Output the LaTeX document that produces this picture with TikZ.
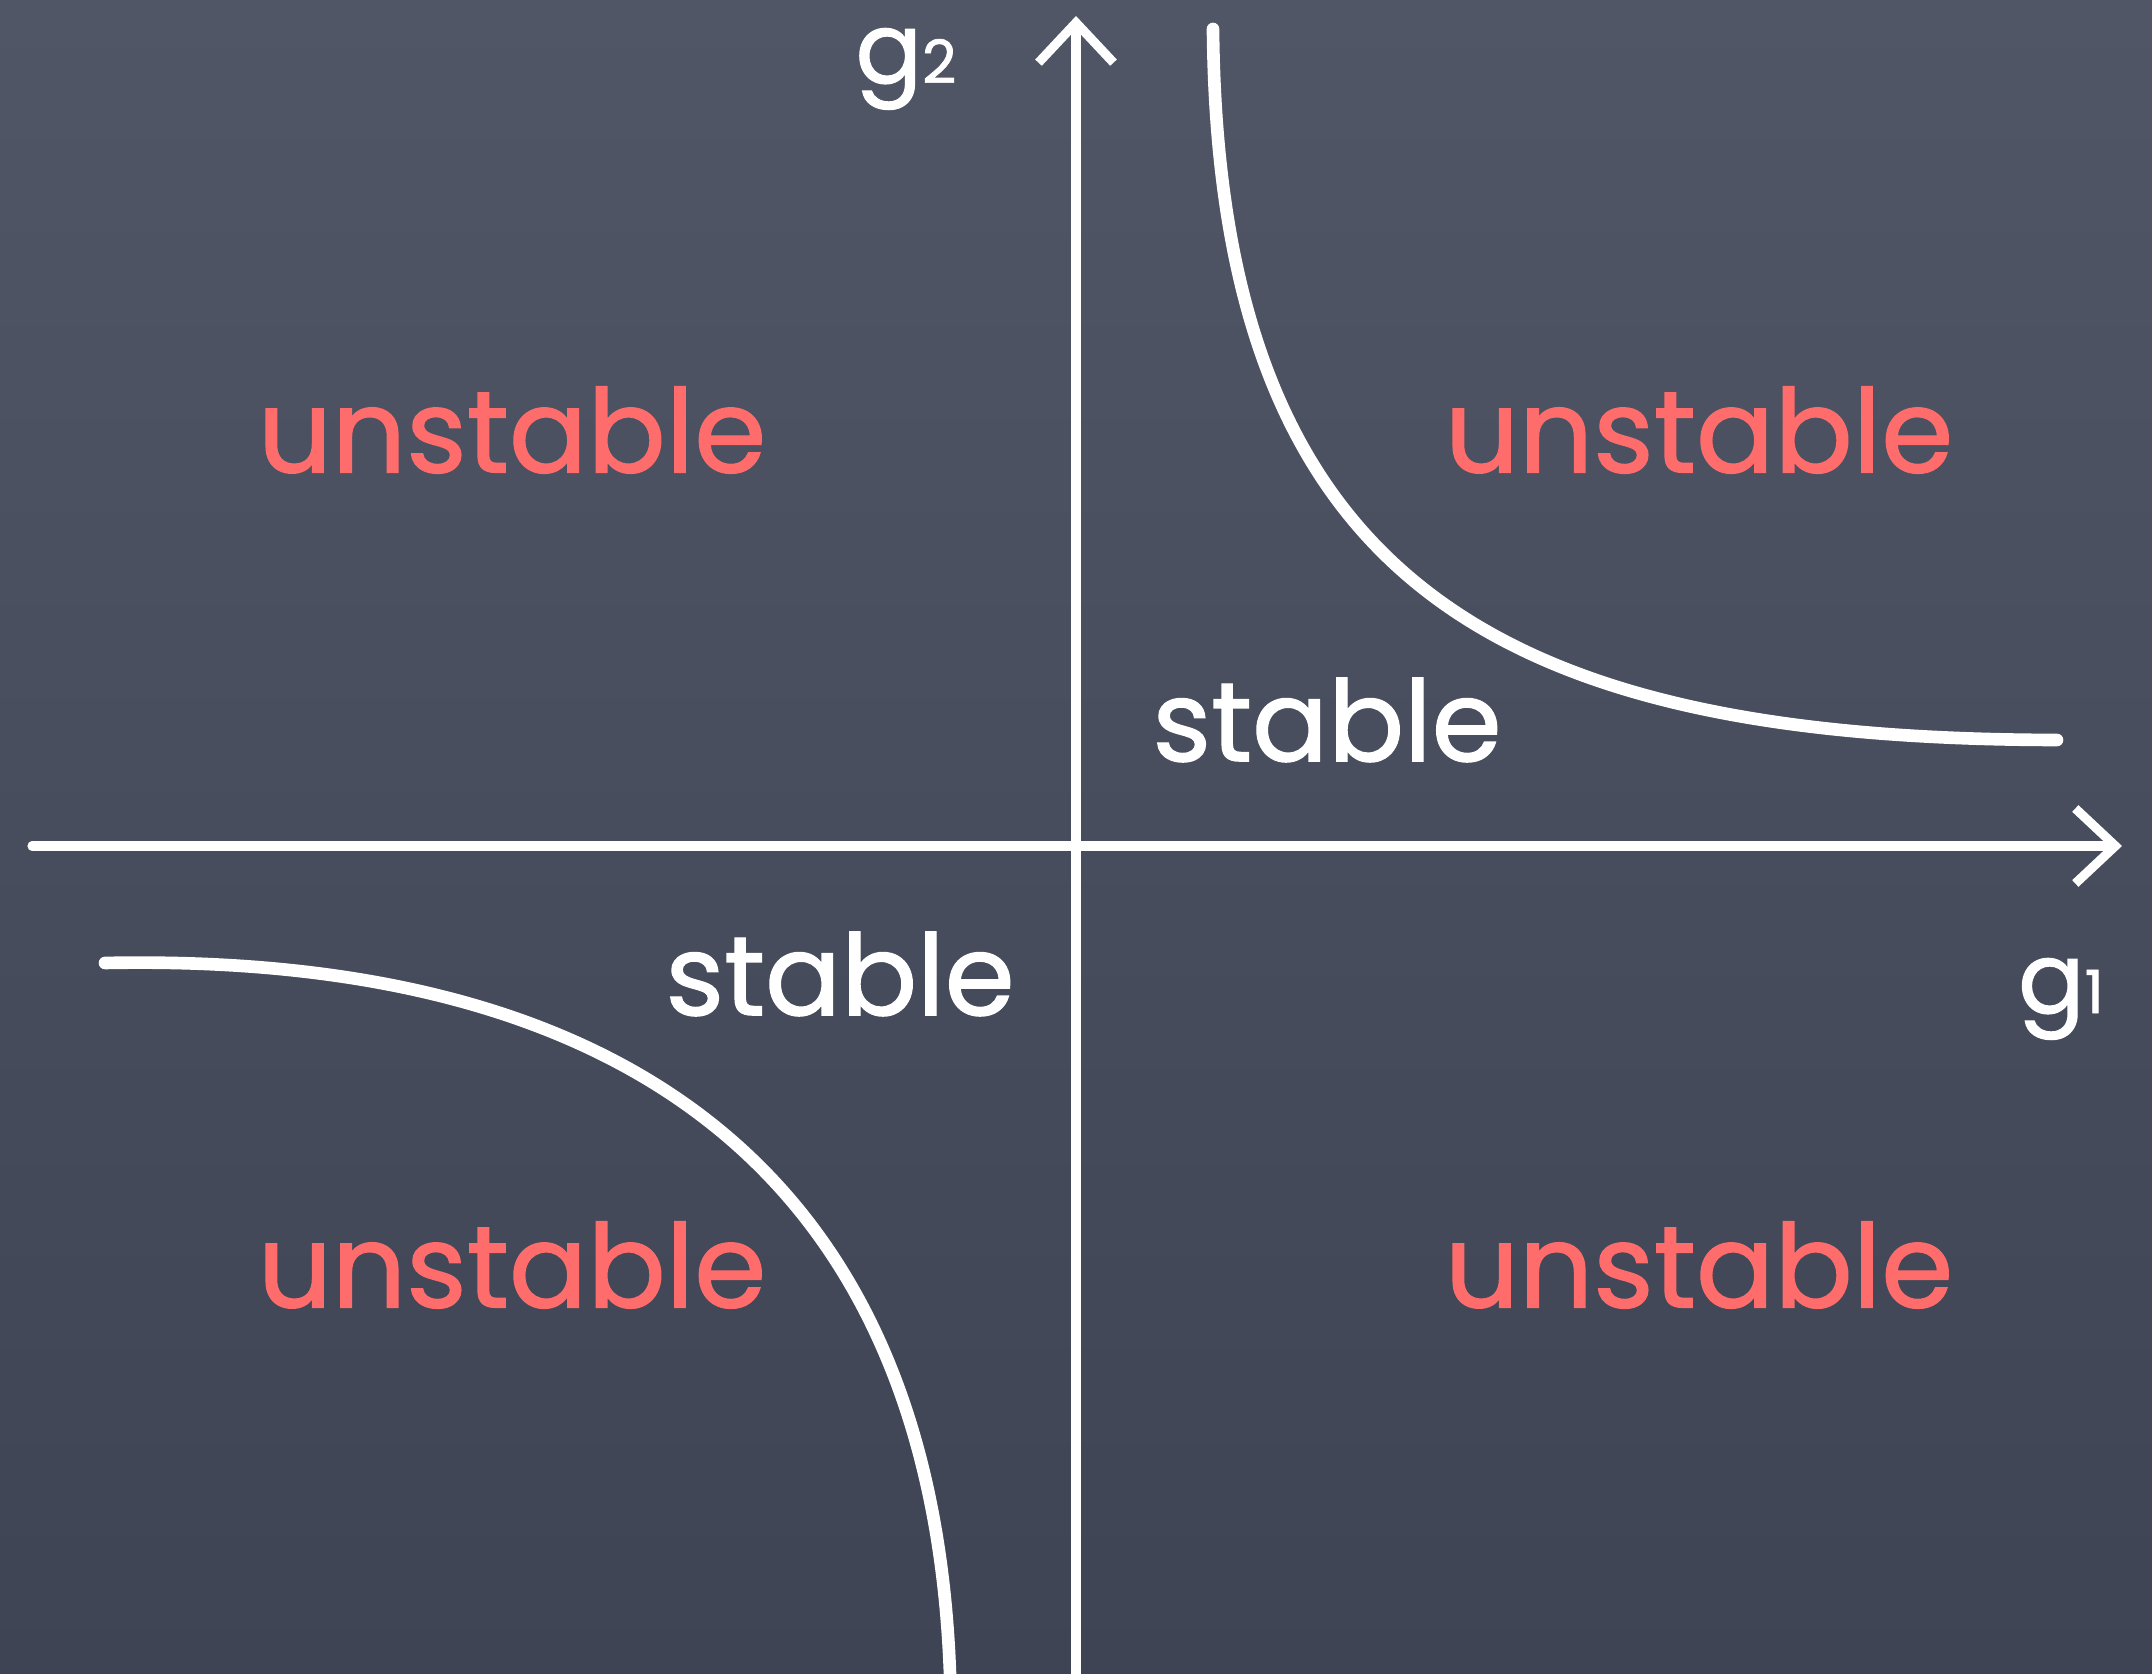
\documentclass[tikz,border=0pt]{standalone}
\usepackage{xcolor}
\usepackage{fontspec}
\setmainfont{Poppins}[FakeBold=1.2]
\usepackage{tikz}
\usetikzlibrary{
  arrows.meta,
  positioning,
  calc
}
\definecolor{boardtop}{RGB}{80,86,101}
\definecolor{boardbot}{RGB}{62,68,83}
\definecolor{chalkred}{RGB}{255,108,108}

\begin{document}
\begin{tikzpicture}[
    axis/.style={white, line width=2.6pt, line cap=round, -{Straight Barb[length=4mm, width=7.5mm, line width=2.6pt]}},
    curve/.style={white, line width=3.6pt, line cap=round},
    unst/.style={text=chalkred, font=\fontsize{33}{38}\selectfont},
    stab/.style={text=white, font=\fontsize{32}{37}\selectfont},
    glabel/.style={text=white, font=\fontsize{28}{32}\selectfont}
  ]
    % Quadro
    \shade[top color=boardtop, bottom color=boardbot] (0,0) rectangle (21.52,16.74);
    \useasboundingbox (0,0) rectangle (21.52,16.74);

    % Eixos
    \coordinate (o) at (10.76,8.28);
    \coordinate (xl) at (0.32,8.28);
    \coordinate (xr) at (21.22,8.28);
    \coordinate (yb) at (10.76,0);
    \coordinate (yt) at (10.76,16.58);
    \draw[axis] (xl) -- (xr);
    \draw[axis] (yb) -- (yt);

    % Curvas
    \coordinate (ura) at (12.13,16.45);
    \coordinate (urb) at (20.57,9.34);
    \coordinate (lla) at (1.05,7.11);
    \coordinate (llb) at (9.50,0);
    \draw[curve] (ura) .. controls (12.18,10.9) and (15.0,9.35) .. (urb);
    \draw[curve] (lla) .. controls (5.5,7.2) and (9.3,5.6) .. (llb);

    % Rotulos
    \node[unst] (ul) at (5.12,12.44) {unstable};
    \node[unst] (ur) at (16.99,12.44) {unstable};
    \node[unst] (ll) at (5.12,4.09) {unstable};
    \node[unst] (lr) at (16.99,4.09) {unstable};
    \node[stab] (su) at (13.27,9.54) {stable};
    \node[stab] (sl) at (8.40,7.00) {stable};
    \node[glabel] (g2) at (9.06,16.05) {g{\fontsize{17}{20}\selectfont 2}};
    \node[glabel] (g1) at (20.61,6.75) {g{\fontsize{17}{20}\selectfont 1}};
\end{tikzpicture}
\end{document}
